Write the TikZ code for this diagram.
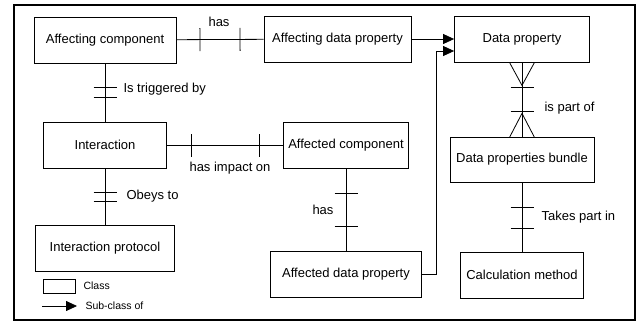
\documentclass[tikz,border=0pt]{standalone}
\usepackage{fontspec}
\setmainfont{Liberation Sans}
\usepackage{tikz}
\usetikzlibrary{arrows.meta,decorations.markings}

\begin{document}
\begin{tikzpicture}[x=1pt, y=-1pt, every node/.style={font=\fontsize{13}{15}\selectfont},
  cls/.style={draw, thick, minimum height=46pt, inner sep=0pt},
  rel/.style={thick},
  bar/.style={postaction={decorate, decoration={markings, mark=at position #1 with {\draw[thick] (0,-11.5pt) -- (0,11.5pt);}}}},
  sub/.style={thick, -{Triangle[length=11pt,width=10pt]}}]
\useasboundingbox (0,0) rectangle (640,322);
\draw[line width=1.6pt] (14,5) rectangle (635,320);
% classes
\node[cls, minimum width=142pt] (acomp) at (105,40) {Affecting component};
\node[cls, minimum width=147pt] (adp) at (337.5,39) {Affecting data property};
\node[cls, minimum width=135pt] (dp) at (522,39) {Data property};
\node[cls, minimum width=123pt] (inter) at (105,145) {Interaction};
\node[cls, minimum width=125pt] (afcomp) at (346,145) {Affected component};
\node[cls, minimum width=144pt, minimum height=45pt] (dpb) at (522,159.5) {Data properties bundle};
\node[cls, minimum width=139pt] (iprot) at (105,248) {Interaction protocol};
\node[cls, minimum width=151pt] (afdp) at (346,274) {Affected data property};
\node[cls, minimum width=123pt] (calc) at (522,275) {Calculation method};
% relations
\draw[rel, bar=0.27, bar=0.73] (acomp) -- (adp);
\node[anchor=south] (lhas) at (219,30) {has};
\draw[rel, bar=0.42, bar=0.59] (acomp) -- (inter);
\node[anchor=west] (ltrig) at (120,89) {Is triggered by};
\draw[rel, bar=0.21, bar=0.80] (inter) -- (afcomp);
\node (limp) at (230,168) {has impact on};
\draw[rel, bar=0.42, bar=0.58] (inter) -- (iprot);
\node[anchor=west] (lobey) at (123,196) {Obeys to};
\draw[rel, bar=0.30, bar=0.71] (afcomp) -- (afdp);
\node[anchor=east] (lhas2) at (337,210) {has};
\draw[rel, bar=0.333, bar=0.667,
  postaction={decorate, decoration={markings,
    mark=at position 23pt with {\draw[thick] (-23pt,12.5pt) -- (0,0) -- (-23pt,-12.5pt);},
    mark=at position 51pt with {\draw[thick] (24pt,12.5pt) -- (0,0) -- (24pt,-12.5pt);}}}]
  (dp) -- (dpb);
\node[anchor=west] (lpart) at (541,108) {is part of};
\draw[rel, bar=0.36, bar=0.66] (dpb) -- (calc);
\node[anchor=west] (ltake) at (538,217) {Takes part in};
% sub-class arrows
\draw[sub] (adp) -- (dp);
\coordinate (dpin) at ([yshift=-12pt]dp.west);
\draw[sub] (afdp.east) -- ++(14,0) |- (dpin);
% legend
\node[draw, thick, minimum width=32pt, minimum height=14pt, inner sep=0pt] (lgbox) at (59,286) {};
\node[anchor=west, font=\fontsize{10.5}{12}\selectfont] (lgcls) at (80,286) {Class};
\coordinate (lga) at (42,306);
\coordinate (lgb) at (77,306);
\draw[sub] (lga) -- (lgb);
\node[anchor=west, font=\fontsize{10.5}{12}\selectfont] (lgsub) at (82,306) {Sub-class of};
\end{tikzpicture}
\end{document}
